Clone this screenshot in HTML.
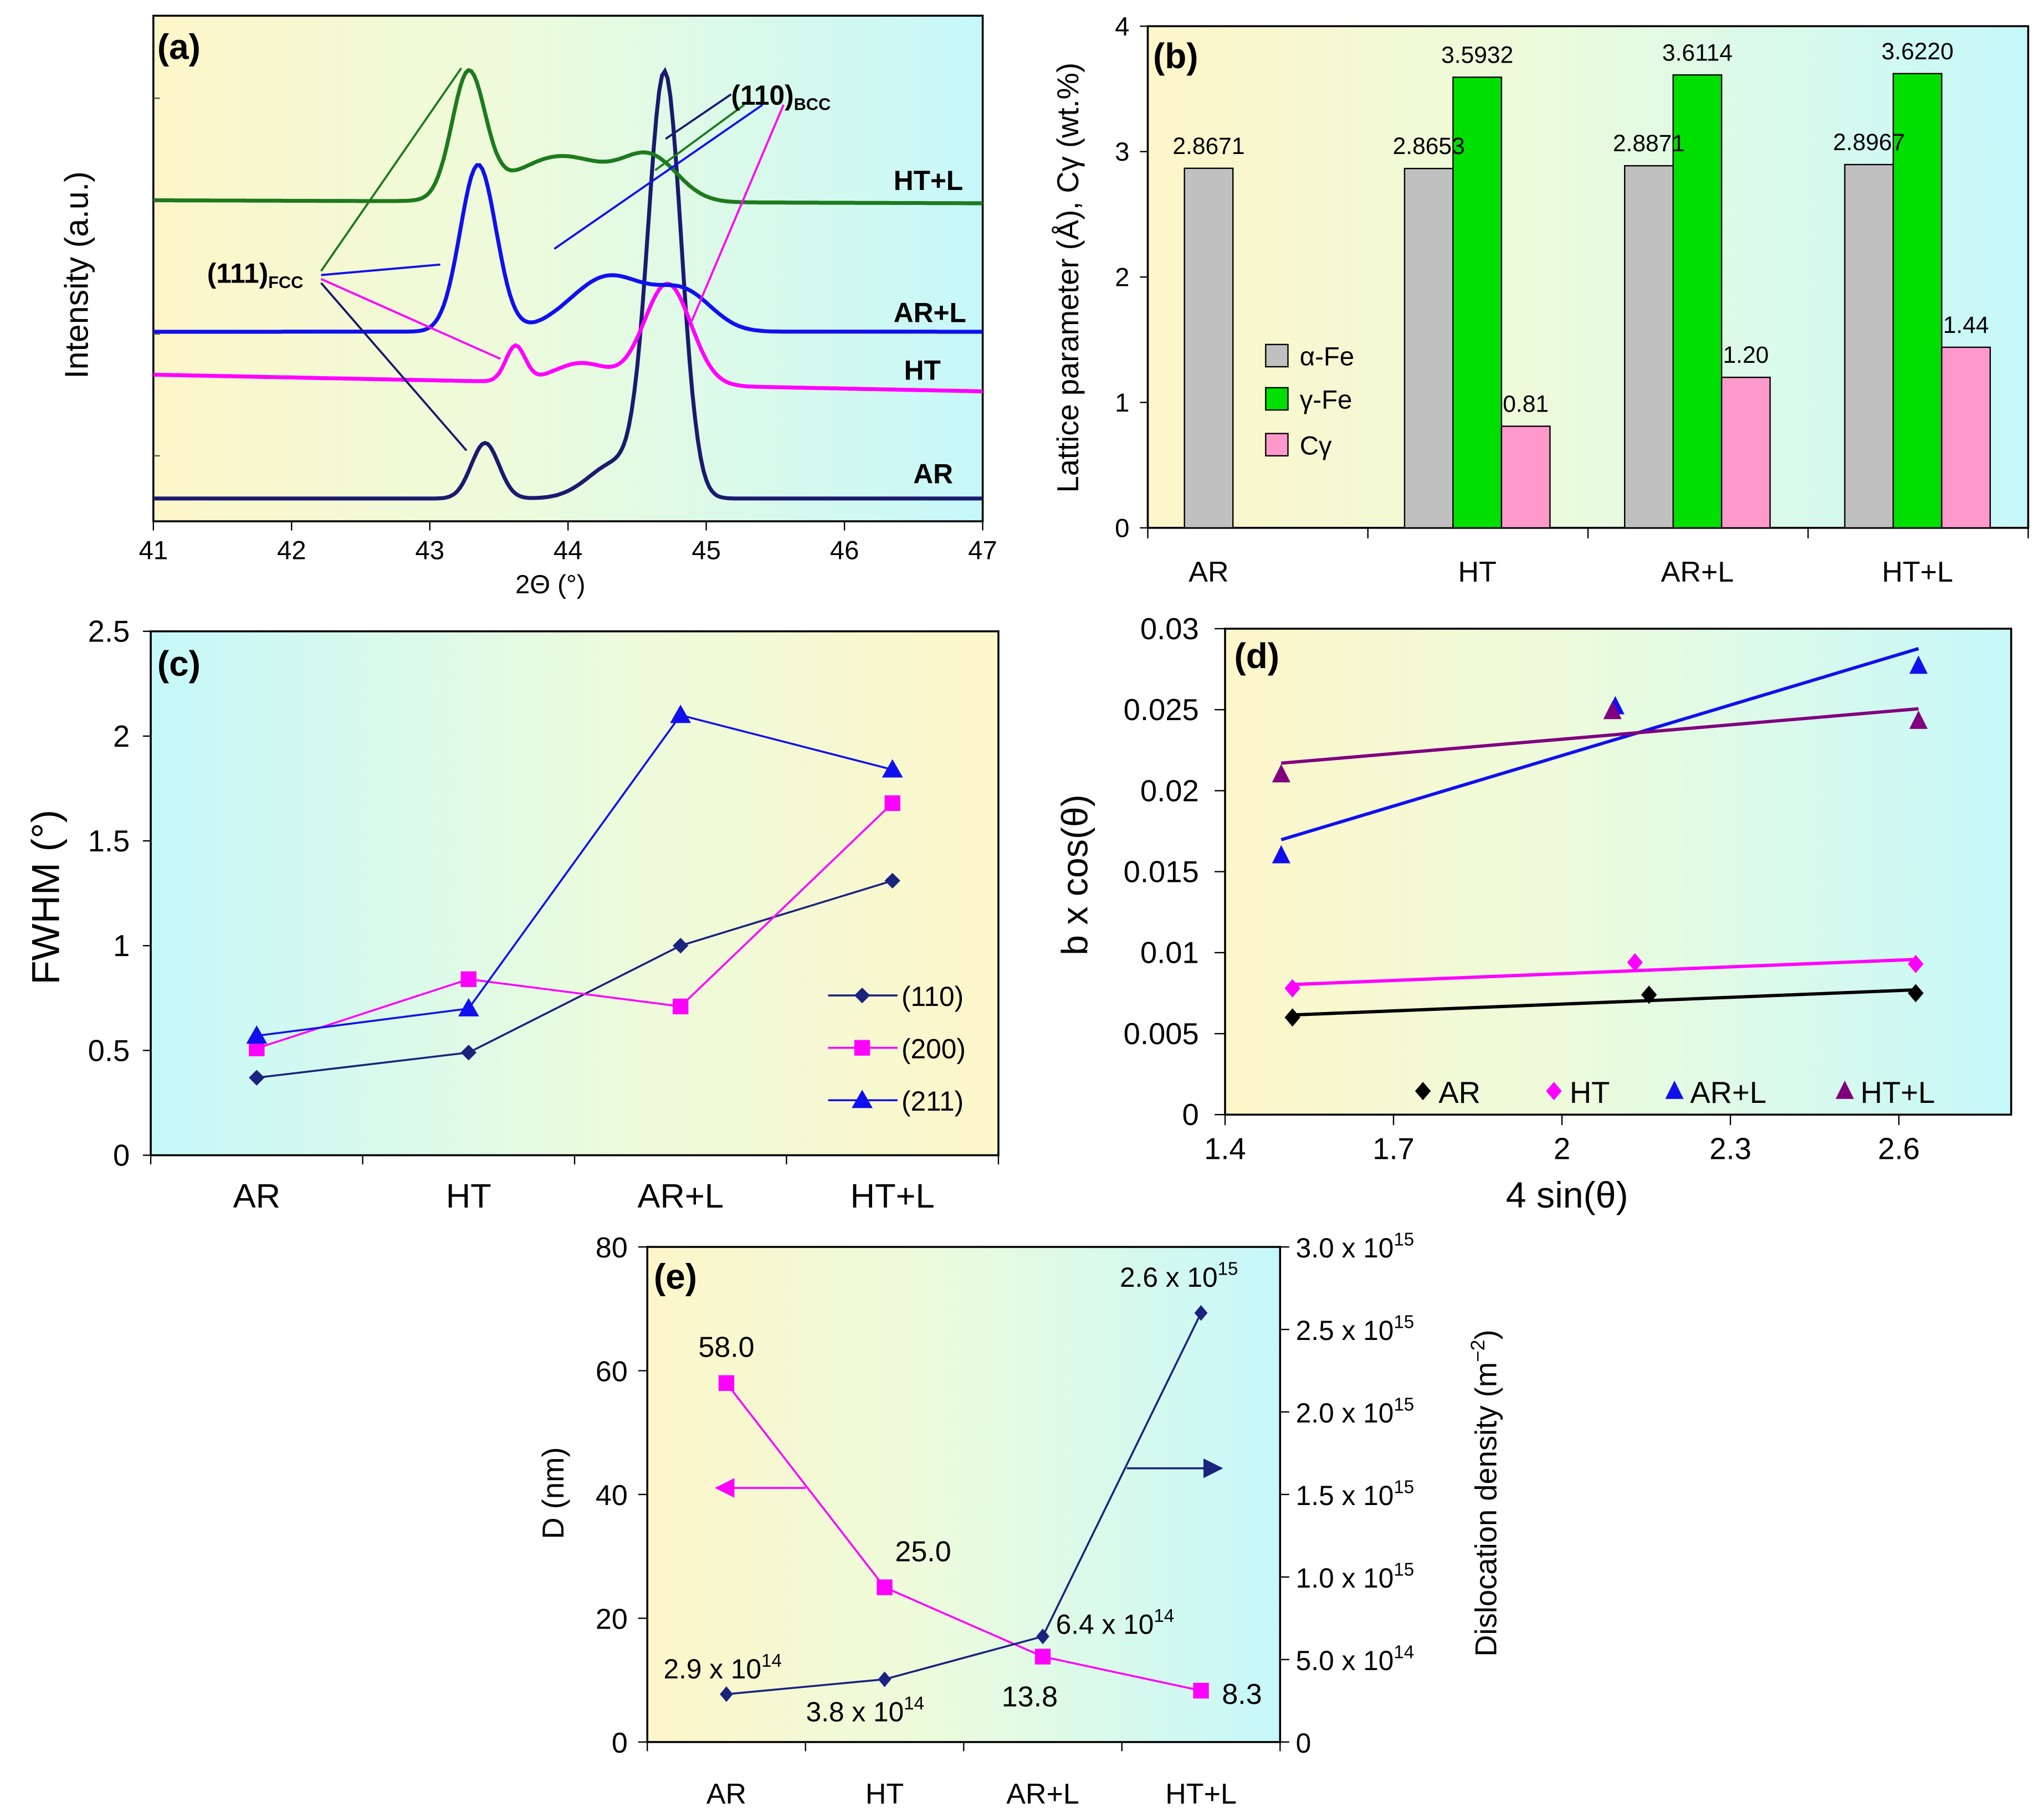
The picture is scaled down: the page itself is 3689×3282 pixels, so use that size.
<!DOCTYPE html>
<html><head><meta charset="utf-8"><style>
html,body{margin:0;padding:0;background:#fff}
svg{display:block}
text{font-family:"Liberation Sans",Arial,sans-serif;fill:#000}
</style></head><body>
<svg id="fig" xmlns="http://www.w3.org/2000/svg" width="3689" height="3282" viewBox="0 0 1560 1388">
<defs>
<linearGradient id="gYC" x1="0" x2="1" y1="0" y2="0"><stop offset="0" stop-color="#fdf6c9"/><stop offset="0.45" stop-color="#ecfbdc"/><stop offset="1" stop-color="#c6f8fa"/></linearGradient>
<linearGradient id="gCY" x1="0" x2="1" y1="0" y2="0"><stop offset="0" stop-color="#c6f8fa"/><stop offset="0.55" stop-color="#ecfbdc"/><stop offset="1" stop-color="#fdf6c9"/></linearGradient>
<marker id="arrM" markerWidth="10" markerHeight="10" refX="9" refY="5" orient="auto"><path d="M0,0 L10,5 L0,10 Z" fill="#ff00ff"/></marker>
<marker id="arrN" markerWidth="10" markerHeight="10" refX="9" refY="5" orient="auto"><path d="M0,0 L10,5 L0,10 Z" fill="#1a237e"/></marker>
</defs>
</svg>
<script>
// ---------- Panel (a) data ----------
const aSeriesNames = ['AR','HT','AR+L','HT+L'];
const aBase0 = [4.5, 29, 37.5, 63.5];
const aBaseSlope = [0, -0.55, 0, -0.1];
const aPeakCentersAR = [44.7, 43.4, 44.35];
const aPeakAmpsAR = [83, 11, 7];
const aPeakWidthsAR = [0.12, 0.1, 0.2];
const aPeakCentersHT = [44.72, 43.62, 44.1];
const aPeakAmpsHT = [20, 7, 4];
const aPeakWidthsHT = [0.17, 0.07, 0.2];
const aPeakCentersARL = [43.35, 44.3, 44.85];
const aPeakAmpsARL = [33, 11, 7];
const aPeakWidthsARL = [0.13, 0.28, 0.2];
const aPeakCentersHTL = [43.28, 43.95, 44.6];
const aPeakAmpsHTL = [24.5, 9, 8];
const aPeakWidthsHTL = [0.12, 0.35, 0.2];
const aXTicks = [41,42,43,44,45,46,47];

// ---------- Panel (b) data ----------
const bCategories = ['AR','HT','AR+L','HT+L'];
const bAlpha = [2.8671, 2.8653, 2.8871, 2.8967];
const bGamma = [null, 3.5932, 3.6114, 3.6220];
const bCgamma = [null, 0.81, 1.20, 1.44];
const bGammaLabels = ['', '3.5932', '3.6114', '3.6220'];
const bAlphaLabels = ['2.8671','2.8653','2.8871','2.8967'];
const bCLabels = ['', '0.81', '1.20', '1.44'];
const bYTicks = [0,1,2,3,4];

// ---------- Panel (c) data ----------
const cCategories = ['AR','HT','AR+L','HT+L'];
const c110 = [0.37, 0.49, 1.00, 1.31];
const c200 = [0.51, 0.84, 0.71, 1.68];
const c211 = [0.57, 0.70, 2.10, 1.84];
const cYTicks = [0,0.5,1,1.5,2,2.5];
const cYTickLabels = ['0','0.5','1','1.5','2','2.5'];

// ---------- Panel (d) data ----------
const dX_AR = [1.52, 2.155, 2.63];
const dY_AR = [0.0060, 0.0074, 0.0075];
const dX_HT = [1.52, 2.13, 2.63];
const dY_HT = [0.0078, 0.0094, 0.0093];
const dX_ARL = [1.50, 2.095, 2.635];
const dY_ARL = [0.0160, 0.0252, 0.0277];
const dX_HTL = [1.50, 2.09, 2.635];
const dY_HTL = [0.0210, 0.0249, 0.0243];
const dXTicks = [1.4,1.7,2,2.3,2.6];
const dYTicks = [0,0.005,0.01,0.015,0.02,0.025,0.03];
const dYTickLabels = ['0','0.005','0.01','0.015','0.02','0.025','0.03'];

// ---------- Panel (e) data ----------
const eCategories = ['AR','HT','AR+L','HT+L'];
const eD = [58.0, 25.0, 13.8, 8.3];
const eDLabels = ['58.0','25.0','13.8','8.3'];
const eRho = [2.9e14, 3.8e14, 6.4e14, 2.6e15];
const eRhoMant = ['2.9 x 10','3.8 x 10','6.4 x 10','2.6 x 10'];
const eRhoExp = ['14','14','14','15'];
const eLeftTicks = [0,20,40,60,80];
const eRightTicks = [0,5e14,1e15,1.5e15,2e15,2.5e15,3e15];
const eRightMant = ['0','5.0 x 10','1.0 x 10','1.5 x 10','2.0 x 10','2.5 x 10','3.0 x 10'];
const eRightExp = ['','14','15','15','15','15','15'];

const svg = document.getElementById('fig');
const NS = 'http://www.w3.org/2000/svg';
function mk(tag, attrs, parent){ const e=document.createElementNS(NS,tag); for(const k in attrs) e.setAttribute(k,attrs[k]); (parent||svg).appendChild(e); return e; }
function txt(x,y,s,size,opts,parent){ opts=opts||{}; const t=mk('text',Object.assign({x:x,y:y,'font-size':size},opts),parent); t.textContent=s; return t; }
function grp(name){ const g=mk('g',{}); 
  return g; }

// ================= Panel (a) =================
(function(){
 const g = grp('panel-a');
 const L=117,R=750,T=12,B=398;
 const xA = v => L+(v-41)*(R-L)/6;
 const yA = I => B - I*3.86;
 const bg=mk('rect',{x:L,y:T,width:R-L,height:B-T,fill:'url(#gYC)',stroke:'#000','stroke-width':1.5},g);
  
 const sets=[[aPeakCentersAR,aPeakAmpsAR,aPeakWidthsAR,'#1a1a6e'],[aPeakCentersHT,aPeakAmpsHT,aPeakWidthsHT,'#ff00ff'],[aPeakCentersARL,aPeakAmpsARL,aPeakWidthsARL,'#1010ee'],[aPeakCentersHTL,aPeakAmpsHTL,aPeakWidthsHTL,'#1e7a1e']];
 sets.forEach((s,i)=>{
   let d='';
   for(let k=0;k<=300;k++){
     const x=41+k*0.02;
     let I=aBase0[i]+aBaseSlope[i]*(x-41);
     for(let j=0;j<s[0].length;j++){ I+=s[1][j]*Math.exp(-Math.pow(x-s[0][j],2)/(2*s[2][j]*s[2][j])); }
     d+=(k?'L':'M')+xA(x).toFixed(1)+','+yA(I).toFixed(1);
   }
   const p=mk('path',{d:d,fill:'none',stroke:s[3],'stroke-width':3},g);
   
   
 });
 const ann=[[245,207,352,52,'#1e7a1e'],[245,210,336,202,'#1010ee'],[245,213,382,274,'#ff00ff'],[245,216,356,344,'#1a1a6e'],
            [558,72,508,106,'#1a1a6e'],[568,80,500,130,'#1e7a1e'],[582,80,423,190,'#1010ee'],[598,80,528,245,'#ff00ff']];
 ann.forEach(a=>{ const l=mk('line',{x1:a[0],y1:a[1],x2:a[2],y2:a[3],stroke:a[4],'stroke-width':1.6},g);
     });
 const t1=txt(158,216,'(111)',21,{'font-weight':'bold'},g);  
 const ts=mk('tspan',{'font-size':13,dy:4},t1); ts.textContent='FCC';
 const t2=txt(558,80,'(110)',21,{'font-weight':'bold'},g);  
 const ts2=mk('tspan',{'font-size':13,dy:4},t2); ts2.textContent='BCC';
 [['HT+L',682,145,'#1e7a1e'],['AR+L',682,246,'#1010ee'],['HT',690,290,'#ff00ff'],['AR',697,369,'#1a1a6e']].forEach(s=>{
   const t=txt(s[1],s[2],s[0],21,{'font-weight':'bold',fill:s[3]},g);   });
 const pl=txt(120,45,'(a)',27,{'font-weight':'bold'},g);  
 aXTicks.forEach(v=>{ mk('line',{x1:xA(v),y1:B,x2:xA(v),y2:B+7,stroke:'#000'},g);
   const t=txt(xA(v),427,String(v),20,{'text-anchor':'middle'},g);   });
 [75,153,255,348].forEach(y=>mk('line',{x1:L,y1:y,x2:L+5,y2:y,stroke:'#555'},g));
 const xt=txt(420,453,'2Θ (°)',20,{'text-anchor':'middle'},g);  
 const yt=txt(0,0,'Intensity (a.u.)',25,{'text-anchor':'middle',transform:'translate(67,210) rotate(-90)'},g);  
})();

// ================= Panel (b) =================
(function(){
 const g=grp('panel-b');
 const L=876,R=1548,T=20,B=403;
 const yB=v=>B-v*(B-T)/4;
 const bg=mk('rect',{x:L,y:T,width:R-L,height:B-T,fill:'url(#gYC)',stroke:'#000','stroke-width':1.5},g);
  
 const cw=(R-L)/4, bw=37;
 const series=[[bAlpha,'#c0c0c0',bAlphaLabels,'alpha-fe'],[bGamma,'#00e000',bGammaLabels,'gamma-fe'],[bCgamma,'#ff99cc',bCLabels,'c-gamma']];
 const labels=[];
 bCategories.forEach((c,i)=>{
   const x0=L+i*cw+28; let n=0;
   series.forEach((s,j)=>{
     const v=s[0][i]; if(v===null) return;
     const x=x0+j*bw;
     const r=mk('rect',{x:x,y:yB(v),width:bw,height:B-yB(v),fill:s[1],stroke:'#000','stroke-width':1},g);
      
     labels.push([x+bw/2,yB(v)-11,s[2][i]]);
     n++;
   });
   const t=txt(x0+n*bw/2,444,c,22,{'text-anchor':'middle'},g);  
   mk('line',{x1:L+i*cw,y1:B,x2:L+i*cw,y2:B+8,stroke:'#000'},g);
 });
 labels.forEach(l=>{ const t=txt(l[0],l[1],l[2],18,{'text-anchor':'middle'},g);   });
 mk('line',{x1:R,y1:B,x2:R,y2:B+8,stroke:'#000'},g);
 bYTicks.forEach(v=>{ mk('line',{x1:L-6,y1:yB(v),x2:L,y2:yB(v),stroke:'#000'},g);
   const t=txt(L-14,yB(v)+7,String(v),20,{'text-anchor':'end'},g);   });
 [['α-Fe','#c0c0c0',272],['γ-Fe','#00e000',305],['Cγ','#ff99cc',340]].forEach(l=>{
   const r=mk('rect',{x:966,y:l[2]-9,width:17,height:17,fill:l[1],stroke:'#000'},g);  
   const t=txt(992,l[2]+7,l[0],20,{},g);   });
 const pl=txt(880,52,'(b)',27,{'font-weight':'bold'},g);  
 const yt=txt(0,0,'Lattice parameter (Å), Cγ (wt.%)',23,{'text-anchor':'middle',transform:'translate(823,212) rotate(-90)'},g);  
})();

// ================= Panel (c) =================
(function(){
 const g=grp('panel-c');
 const L=115,R=762,T=482,B=882;
 const yC=v=>B-v*(B-T)/2.5;
 const cw=(R-L)/4; const xC=i=>L+cw*(i+0.5);
 const bg=mk('rect',{x:L,y:T,width:R-L,height:B-T,fill:'url(#gCY)',stroke:'#000','stroke-width':1.5},g);
  
 cYTicks.forEach((v,i)=>{ mk('line',{x1:L-6,y1:yC(v),x2:L,y2:yC(v),stroke:'#000'},g);
   const t=txt(L-16,yC(v)+8,cYTickLabels[i],23,{'text-anchor':'end'},g);   });
 cCategories.forEach((c,i)=>{ mk('line',{x1:L+i*cw,y1:B,x2:L+i*cw,y2:B+7,stroke:'#000'},g);
   const t=txt(xC(i),922,c,26,{'text-anchor':'middle'},g);   });
 mk('line',{x1:R,y1:B,x2:R,y2:B+7,stroke:'#000'},g);
 function marker(shape,x,y,col,name){
   let e;
   if(shape==='d') e=mk('path',{d:`M${x},${y-6}L${x+6},${y}L${x},${y+6}L${x-6},${y}Z`,fill:col},g);
   else if(shape==='s') e=mk('rect',{x:x-6,y:y-6,width:12,height:12,fill:col},g);
   else e=mk('path',{d:`M${x},${y-8}L${x+8},${y+6}L${x-8},${y+6}Z`,fill:col},g);
     }
 [[c110,'#1a237e','d','110'],[c200,'#ff00ff','s','200'],[c211,'#1010ee','t','211']].forEach(s=>{
   const p=mk('polyline',{points:s[0].map((v,i)=>xC(i)+','+yC(v)).join(' '),fill:'none',stroke:s[1],'stroke-width':1.5},g);
    
   s[0].forEach((v,i)=>marker(s[2],xC(i),yC(v),s[1],'point-'+s[3]));
 });
 [['(110)','#1a237e','d',760],['(200)','#ff00ff','s',800],['(211)','#1010ee','t',840]].forEach(l=>{
   mk('line',{x1:632,y1:l[3],x2:685,y2:l[3],stroke:l[1],'stroke-width':1.5},g);
   marker(l[2],658,l[3],l[1],'legend-marker');
   const t=txt(688,l[3]+8,l[0],21,{},g);   });
 const pl=txt(120,516,'(c)',27,{'font-weight':'bold'},g);  
 const yt=txt(0,0,'FWHM (°)',30,{'text-anchor':'middle',transform:'translate(45,685) rotate(-90)'},g);  
})();

// ================= Panel (d) =================
(function(){
 const g=grp('panel-d');
 const L=935,R=1535,T=480,B=851;
 const xD=v=>L+(v-1.4)*(R-L)/1.4;
 const yD=v=>B-v*(B-T)/0.03;
 const bg=mk('rect',{x:L,y:T,width:R-L,height:B-T,fill:'url(#gYC)',stroke:'#000','stroke-width':1.5},g);
  
 dYTicks.forEach((v,i)=>{ mk('line',{x1:L-8,y1:yD(v),x2:L,y2:yD(v),stroke:'#000'},g);
   const t=txt(L-20,yD(v)+8,dYTickLabels[i],23,{'text-anchor':'end'},g);   });
 dXTicks.forEach(v=>{ mk('line',{x1:xD(v),y1:B,x2:xD(v),y2:B+8,stroke:'#000'},g);
   const t=txt(xD(v),885,String(v),23,{'text-anchor':'middle'},g);   });
 function fit(xs,ys){ const n=xs.length; const mx=xs.reduce((a,b)=>a+b)/n, my=ys.reduce((a,b)=>a+b)/n;
   let sxy=0,sxx=0; for(let i=0;i<n;i++){sxy+=(xs[i]-mx)*(ys[i]-my); sxx+=(xs[i]-mx)**2;} const m=sxy/sxx; return [m,my-m*mx]; }
 function marker(shape,x,y,col,name){
   let e;
   if(shape==='d') e=mk('path',{d:`M${x},${y-7}L${x+6},${y}L${x},${y+7}L${x-6},${y}Z`,fill:col},g);
   else e=mk('path',{d:`M${x},${y-8}L${x+7},${y+6}L${x-7},${y+6}Z`,fill:col},g);
     }
 [[dX_AR,dY_AR,'#000000','d','ar'],[dX_HT,dY_HT,'#ff00ff','d','ht'],[dX_ARL,dY_ARL,'#1010ee','t','ar-l'],[dX_HTL,dY_HTL,'#800080','t','ht-l']].forEach(s=>{
   const f=fit(s[0],s[1]); const x1=Math.min(...s[0]), x2=Math.max(...s[0]);
   const l=mk('line',{x1:xD(x1),y1:yD(f[0]*x1+f[1]),x2:xD(x2),y2:yD(f[0]*x2+f[1]),stroke:s[2],'stroke-width':2.5},g);
    
   s[0].forEach((x,i)=>marker(s[3],xD(x),yD(s[1][i]),s[2],'point-'+s[4]));
 });
 [['AR','#000000','d',1086],['HT','#ff00ff','d',1186],['AR+L','#1010ee','t',1278],['HT+L','#800080','t',1408]].forEach(l=>{
   marker(l[2],l[3],833,l[1],'legend-marker');
   const t=txt(l[3]+12,842,l[0],23,{},g);   });
 const pl=txt(942,510,'(d)',27,{'font-weight':'bold'},g);  
 const xt=txt(1196,922,'4 sin(θ)',28,{'text-anchor':'middle'},g);  
 const yt=txt(0,0,'b x cos(θ)',28,{'text-anchor':'middle',transform:'translate(830,668) rotate(-90)'},g);  
})();

// ================= Panel (e) =================
(function(){
 const g=grp('panel-e');
 const L=494,R=977,T=952,B=1330;
 const yL=v=>B-v*(B-T)/80;
 const yR=v=>B-v*(B-T)/3e15;
 const cw=(R-L)/4; const xE=i=>L+cw*(i+0.5);
 const bg=mk('rect',{x:L,y:T,width:R-L,height:B-T,fill:'url(#gYC)',stroke:'#000','stroke-width':1.5},g);
  
 eLeftTicks.forEach(v=>{ mk('line',{x1:L-7,y1:yL(v),x2:L,y2:yL(v),stroke:'#000'},g);
   const t=txt(L-15,yL(v)+8,String(v),22,{'text-anchor':'end'},g);   });
 eRightTicks.forEach((v,i)=>{ mk('line',{x1:R,y1:yR(v),x2:R+7,y2:yR(v),stroke:'#000'},g);
   const t=txt(R+12,yR(v)+8,eRightMant[i],21,{},g);  
   if(eRightExp[i]){ const s=mk('tspan',{'font-size':14,dy:-9},t); s.textContent=eRightExp[i]; } });
 eCategories.forEach((c,i)=>{ mk('line',{x1:L+i*cw,y1:B,x2:L+i*cw,y2:B+7,stroke:'#000'},g);
   const t=txt(xE(i),1377,c,22,{'text-anchor':'middle'},g);   });
 mk('line',{x1:R,y1:B,x2:R,y2:B+7,stroke:'#000'},g);
 const pD=mk('polyline',{points:eD.map((v,i)=>xE(i)+','+yL(v)).join(' '),fill:'none',stroke:'#ff00ff','stroke-width':1.5},g);
  
 const pR=mk('polyline',{points:eRho.map((v,i)=>xE(i)+','+yR(v)).join(' '),fill:'none',stroke:'#1a237e','stroke-width':1.5},g);
  
 const dOff=[[0,-20,'middle'],[8,-20,'start'],[-10,38,'middle'],[16,10,'start']];
 eD.forEach((v,i)=>{ const r=mk('rect',{x:xE(i)-6,y:yL(v)-6,width:12,height:12,fill:'#ff00ff'},g);
    
   const t=txt(xE(i)+dOff[i][0],yL(v)+dOff[i][1],eDLabels[i],22,{'text-anchor':dOff[i][2]},g);   });
 const rOff=[[-48,-12],[-60,32],[10,-2],[-62,-20]];
 eRho.forEach((v,i)=>{ const x=xE(i),y=yR(v);
   const m=mk('path',{d:`M${x},${y-6}L${x+5},${y}L${x},${y+6}L${x-5},${y}Z`,fill:'#1a237e'},g);
    
   const t=txt(x+rOff[i][0],y+rOff[i][1],eRhoMant[i],21,{},g);  
   const s=mk('tspan',{'font-size':14,dy:-9},t); s.textContent=eRhoExp[i]; });
 const a1=mk('line',{x1:615,y1:1136,x2:547,y2:1136,stroke:'#ff00ff','stroke-width':1.5,'marker-end':'url(#arrM)'},g);
  
 const a2=mk('line',{x1:860,y1:1121,x2:932,y2:1121,stroke:'#1a237e','stroke-width':1.5,'marker-end':'url(#arrN)'},g);
  
 const pl=txt(499,984,'(e)',27,{'font-weight':'bold'},g);  
 const yt=txt(0,0,'D (nm)',23,{'text-anchor':'middle',transform:'translate(430,1140) rotate(-90)'},g);  
 const yt2=txt(0,0,'Dislocation density (m',23,{'text-anchor':'middle',transform:'translate(1142,1140) rotate(-90)'},g);  
 const s1=mk('tspan',{'font-size':15,dy:-9},yt2); s1.textContent='−2';
 const s2=mk('tspan',{dy:9},yt2); s2.textContent=')';
})();
</script>
</body></html>
